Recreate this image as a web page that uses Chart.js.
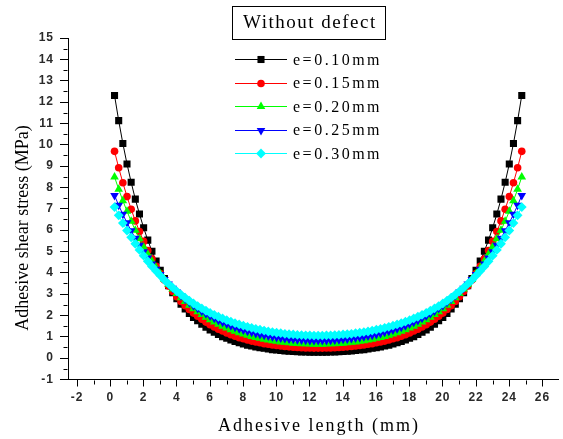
<!DOCTYPE html>
<html>
<head>
<meta charset="utf-8">
<style>
  html, body { margin: 0; padding: 0; background: #fff; }
  canvas { display: block; }
</style>
<script src="https://cdn.jsdelivr.net/npm/chart.js@4/dist/chart.umd.min.js"></script>
</head>
<body>
<canvas id="c" width="563" height="439"></canvas>
<script>
// Position along the adhesive joint (mm)
const lengthsMm = [0.25, 0.5, 0.75, 1, 1.25, 1.5, 1.75, 2, 2.25, 2.5, 2.75, 3, 3.25, 3.5, 3.75, 4, 4.25, 4.5, 4.75, 5,
  5.25, 5.5, 5.75, 6, 6.25, 6.5, 6.75, 7, 7.25, 7.5, 7.75, 8, 8.25, 8.5, 8.75, 9, 9.25, 9.5, 9.75, 10,
  10.25, 10.5, 10.75, 11, 11.25, 11.5, 11.75, 12, 12.25, 12.5, 12.75, 13, 13.25, 13.5, 13.75, 14, 14.25, 14.5, 14.75, 15,
  15.25, 15.5, 15.75, 16, 16.25, 16.5, 16.75, 17, 17.25, 17.5, 17.75, 18, 18.25, 18.5, 18.75, 19, 19.25, 19.5, 19.75, 20,
  20.25, 20.5, 20.75, 21, 21.25, 21.5, 21.75, 22, 22.25, 22.5, 22.75, 23, 23.25, 23.5, 23.75, 24, 24.25, 24.5, 24.75];

// Adhesive shear stress (MPa) for each adhesive thickness e
const stressE010 = [12.31, 11.13, 10.06, 9.10, 8.24, 7.45, 6.75, 6.11, 5.53, 5.01, 4.55, 4.12, 3.73, 3.39, 3.07, 2.79, 2.53, 2.30, 2.09, 1.91,
  1.75, 1.59, 1.45, 1.32, 1.21, 1.11, 1.01, 0.93, 0.85, 0.78, 0.72, 0.66, 0.61, 0.57, 0.53, 0.49, 0.46, 0.43, 0.40, 0.38,
  0.36, 0.34, 0.33, 0.31, 0.30, 0.29, 0.29, 0.28, 0.28, 0.28, 0.28, 0.28, 0.29, 0.29, 0.30, 0.31, 0.33, 0.34, 0.36, 0.38,
  0.40, 0.43, 0.46, 0.49, 0.53, 0.57, 0.61, 0.66, 0.72, 0.78, 0.85, 0.93, 1.01, 1.11, 1.21, 1.32, 1.45, 1.59, 1.75, 1.91,
  2.09, 2.30, 2.53, 2.79, 3.07, 3.39, 3.73, 4.12, 4.55, 5.01, 5.53, 6.11, 6.75, 7.45, 8.24, 9.10, 10.06, 11.13, 12.31];

const stressE015 = [9.69, 8.92, 8.22, 7.57, 6.98, 6.43, 5.93, 5.47, 5.04, 4.65, 4.30, 3.96, 3.66, 3.38, 3.12, 2.88, 2.66, 2.46, 2.28, 2.11,
  1.96, 1.82, 1.69, 1.57, 1.46, 1.36, 1.27, 1.18, 1.10, 1.03, 0.96, 0.91, 0.85, 0.80, 0.76, 0.72, 0.68, 0.65, 0.62, 0.59,
  0.57, 0.55, 0.53, 0.51, 0.50, 0.49, 0.48, 0.48, 0.47, 0.47, 0.47, 0.48, 0.48, 0.49, 0.50, 0.51, 0.53, 0.55, 0.57, 0.59,
  0.62, 0.65, 0.68, 0.72, 0.76, 0.80, 0.85, 0.91, 0.96, 1.03, 1.10, 1.18, 1.27, 1.36, 1.46, 1.57, 1.69, 1.82, 1.96, 2.11,
  2.28, 2.46, 2.66, 2.88, 3.12, 3.38, 3.66, 3.96, 4.30, 4.65, 5.04, 5.47, 5.93, 6.43, 6.98, 7.57, 8.22, 8.92, 9.69];

const stressE020 = [8.49, 7.91, 7.38, 6.88, 6.42, 5.99, 5.59, 5.21, 4.87, 4.54, 4.24, 3.96, 3.70, 3.46, 3.24, 3.03, 2.83, 2.65, 2.48, 2.32,
  2.18, 2.04, 1.92, 1.80, 1.69, 1.59, 1.50, 1.41, 1.33, 1.26, 1.19, 1.13, 1.07, 1.02, 0.97, 0.93, 0.89, 0.85, 0.82, 0.79,
  0.76, 0.74, 0.72, 0.70, 0.69, 0.67, 0.67, 0.66, 0.65, 0.65, 0.65, 0.66, 0.67, 0.67, 0.69, 0.70, 0.72, 0.74, 0.76, 0.79,
  0.82, 0.85, 0.89, 0.93, 0.97, 1.02, 1.07, 1.13, 1.19, 1.26, 1.33, 1.41, 1.50, 1.59, 1.69, 1.80, 1.92, 2.04, 2.18, 2.32,
  2.48, 2.65, 2.83, 3.03, 3.24, 3.46, 3.70, 3.96, 4.24, 4.54, 4.87, 5.21, 5.59, 5.99, 6.42, 6.88, 7.38, 7.91, 8.49];

const stressE025 = [7.62, 7.16, 6.74, 6.34, 5.97, 5.62, 5.29, 4.98, 4.69, 4.41, 4.16, 3.92, 3.69, 3.48, 3.28, 3.10, 2.92, 2.76, 2.61, 2.46,
  2.33, 2.20, 2.08, 1.97, 1.87, 1.77, 1.68, 1.60, 1.52, 1.45, 1.38, 1.32, 1.26, 1.21, 1.16, 1.11, 1.07, 1.04, 1.00, 0.97,
  0.94, 0.92, 0.90, 0.88, 0.86, 0.85, 0.84, 0.83, 0.83, 0.83, 0.83, 0.83, 0.84, 0.85, 0.86, 0.88, 0.90, 0.92, 0.94, 0.97,
  1.00, 1.04, 1.07, 1.11, 1.16, 1.21, 1.26, 1.32, 1.38, 1.45, 1.52, 1.60, 1.68, 1.77, 1.87, 1.97, 2.08, 2.20, 2.33, 2.46,
  2.61, 2.76, 2.92, 3.10, 3.28, 3.48, 3.69, 3.92, 4.16, 4.41, 4.69, 4.98, 5.29, 5.62, 5.97, 6.34, 6.74, 7.16, 7.62];

const stressE030 = [7.08, 6.69, 6.33, 5.98, 5.66, 5.36, 5.07, 4.80, 4.54, 4.30, 4.08, 3.87, 3.66, 3.48, 3.30, 3.13, 2.98, 2.83, 2.69, 2.56,
  2.44, 2.33, 2.22, 2.12, 2.03, 1.94, 1.86, 1.78, 1.71, 1.64, 1.58, 1.52, 1.47, 1.42, 1.37, 1.33, 1.29, 1.25, 1.22, 1.19,
  1.17, 1.14, 1.12, 1.11, 1.09, 1.08, 1.07, 1.07, 1.06, 1.06, 1.06, 1.07, 1.07, 1.08, 1.09, 1.11, 1.12, 1.14, 1.17, 1.19,
  1.22, 1.25, 1.29, 1.33, 1.37, 1.42, 1.47, 1.52, 1.58, 1.64, 1.71, 1.78, 1.86, 1.94, 2.03, 2.12, 2.22, 2.33, 2.44, 2.56,
  2.69, 2.83, 2.98, 3.13, 3.30, 3.48, 3.66, 3.87, 4.08, 4.30, 4.54, 4.80, 5.07, 5.36, 5.66, 5.98, 6.33, 6.69, 7.08];

const seriesLabels = ['e=0.10mm', 'e=0.15mm', 'e=0.20mm', 'e=0.25mm', 'e=0.30mm'];
const seriesValues = [stressE010, stressE015, stressE020, stressE025, stressE030];

// Axis ticks
const xTicks = [-2, 0, 2, 4, 6, 8, 10, 12, 14, 16, 18, 20, 22, 24, 26];
const xMinorTicks = [-1, 1, 3, 5, 7, 9, 11, 13, 15, 17, 19, 21, 23, 25];
const yTicks = [-1, 0, 1, 2, 3, 4, 5, 6, 7, 8, 9, 10, 11, 12, 13, 14, 15];
const yMinorTicks = [-0.5, 0.5, 1.5, 2.5, 3.5, 4.5, 5.5, 6.5, 7.5, 8.5, 9.5, 10.5, 11.5, 12.5, 13.5, 14.5];

const chartTitle = 'Without defect';
const xTitle = 'Adhesive length (mm)';
const yTitle = 'Adhesive shear stress (MPa)';

// Marker look per series
const styles = [
  { color: '#000000', pointStyle: 'rect', radius: 5, rotation: 0 },
  { color: '#ff0000', pointStyle: 'circle', radius: 3.8, rotation: 0 },
  { color: '#00ff00', pointStyle: 'triangle', radius: 5, rotation: 0 },
  { color: '#0000ff', pointStyle: 'triangle', radius: 5, rotation: 180 },
  { color: '#00ffff', pointStyle: 'rectRot', radius: 4.9, rotation: 0 }
];

const datasets = seriesValues.map((vals, i) => ({
  label: seriesLabels[i],
  data: lengthsMm.map((x, j) => ({ x: x, y: vals[j] })),
  showLine: true,
  borderColor: styles[i].color,
  backgroundColor: styles[i].color,
  borderWidth: 1,
  pointStyle: styles[i].pointStyle,
  pointRadius: styles[i].radius,
  pointRotation: styles[i].rotation,
  pointBackgroundColor: styles[i].color,
  pointBorderWidth: 0,
  // later series are painted over earlier ones
  order: seriesValues.length - i
}));

const SERIF = '"Liberation Serif", "Times New Roman", serif';
const SANS = '"Liberation Sans", Arial, sans-serif';

const decorations = {
  id: 'decorations',
  beforeDraw(chart) {
    // slightly spaced tick digits
    chart.ctx.letterSpacing = '1px';
  },
  afterDraw(chart) {
    const ctx = chart.ctx;
    const area = chart.chartArea;
    const xs = chart.scales.x, ys = chart.scales.y;
    ctx.save();

    // minor tick marks
    ctx.strokeStyle = '#000';
    ctx.lineWidth = 1;
    ctx.beginPath();
    const axisBottom = Math.round(area.bottom) + 0.5;
    xMinorTicks.forEach(v => {
      const px = Math.round(xs.getPixelForValue(v)) + 0.5;
      ctx.moveTo(px, axisBottom);
      ctx.lineTo(px, axisBottom + 4);
    });
    const axisLeft = Math.round(area.left) - 0.5;
    yMinorTicks.forEach(v => {
      const py = Math.round(ys.getPixelForValue(v)) + 0.5;
      ctx.moveTo(axisLeft - 4, py);
      ctx.lineTo(axisLeft, py);
    });
    ctx.stroke();

    // boxed title
    ctx.strokeRect(232.5, 6.5, 153, 33);
    ctx.fillStyle = '#000';
    ctx.font = '19px ' + SERIF;
    ctx.letterSpacing = '1.5px';
    ctx.textAlign = 'left';
    ctx.textBaseline = 'alphabetic';
    ctx.fillText(chartTitle, 243, 28);

    // legend
    const rowTop = 59, rowGap = 23.5;
    seriesLabels.forEach((label, i) => {
      const y = rowTop + i * rowGap;
      const s = styles[i];
      ctx.strokeStyle = s.color;
      ctx.fillStyle = s.color;
      ctx.lineWidth = 1;
      ctx.beginPath();
      ctx.moveTo(235, Math.round(y) + 0.5);
      ctx.lineTo(287, Math.round(y) + 0.5);
      ctx.stroke();
      Chart.helpers.drawPoint(ctx, {
        pointStyle: s.pointStyle, rotation: s.rotation, radius: s.radius, borderWidth: 0
      }, 261, Math.round(y) + 0.5);
      ctx.fillStyle = '#000';
      ctx.font = '16px ' + SERIF;
      ctx.letterSpacing = '2.5px';
      ctx.fillText(label, 293, y + 5.5);
    });

    // axis titles
    ctx.fillStyle = '#000';
    ctx.font = '18px ' + SERIF;
    ctx.letterSpacing = '2px';
    ctx.textAlign = 'left';
    ctx.fillText(xTitle, 218, 431);

    ctx.letterSpacing = '0px';
    ctx.translate(28, 228);
    ctx.rotate(-Math.PI / 2);
    ctx.textAlign = 'center';
    ctx.fillText(yTitle, 0, 0);

    ctx.restore();
    ctx.letterSpacing = '0px';
  }
};

new Chart(document.getElementById('c'), {
  type: 'scatter',
  data: { datasets: datasets },
  options: {
    responsive: false,
    animation: false,
    devicePixelRatio: 1,
    layout: { padding: { top: 38, right: 1, left: 0, bottom: 0 } },
    plugins: { legend: { display: false }, tooltip: { enabled: false } },
    scales: {
      x: {
        type: 'linear',
        min: -2.55,
        max: 26.93,
        afterFit(s) { s.height = 59.5; },
        afterBuildTicks(s) { s.ticks = xTicks.map(v => ({ value: v })); },
        grid: { drawOnChartArea: false, drawTicks: true, tickLength: 7, tickColor: '#000', tickWidth: 1 },
        border: { display: true, color: '#000', width: 1 },
        ticks: {
          font: { family: SANS, size: 12, weight: 'bold' },
          color: '#2a2a2a', padding: 4, maxRotation: 0, autoSkip: false
        }
      },
      y: {
        type: 'linear',
        min: -1,
        max: 15,
        afterFit(s) { s.width = 68; },
        afterBuildTicks(s) { s.ticks = yTicks.map(v => ({ value: v })); },
        grid: { drawOnChartArea: false, drawTicks: true, tickLength: 8, tickColor: '#000', tickWidth: 1 },
        border: { display: true, color: '#000', width: 1 },
        ticks: {
          font: { family: SANS, size: 12, weight: 'bold' },
          color: '#2a2a2a', padding: 6, autoSkip: false
        }
      }
    }
  },
  plugins: [decorations]
});
</script>
</body>
</html>
